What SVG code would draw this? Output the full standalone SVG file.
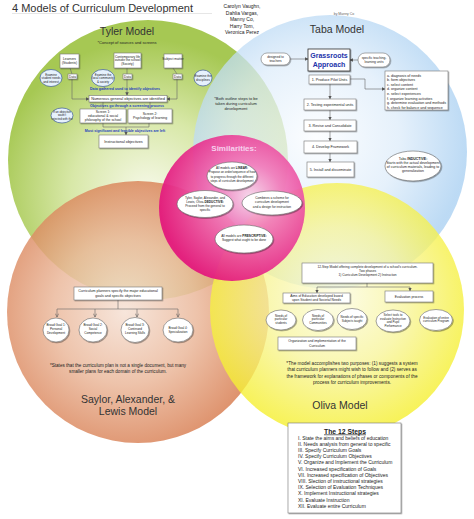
<svg xmlns="http://www.w3.org/2000/svg" width="474" height="519" viewBox="0 0 474 519">
<defs>
<radialGradient id="gG" cx="0.5" cy="0.62" r="0.55"><stop offset="0" stop-color="#F7F9EA"/><stop offset="0.5" stop-color="#D8E8A8"/><stop offset="1" stop-color="#A6C853"/></radialGradient>
<radialGradient id="gB" cx="0.45" cy="0.45" r="0.55"><stop offset="0" stop-color="#FBFDFF"/><stop offset="0.55" stop-color="#DDECFA"/><stop offset="1" stop-color="#A6CEF1"/></radialGradient>
<radialGradient id="gO" cx="0.45" cy="0.5" r="0.55"><stop offset="0" stop-color="#F5E0D3"/><stop offset="0.5" stop-color="#EAB698"/><stop offset="1" stop-color="#D6784A"/></radialGradient>
<radialGradient id="gY" cx="0.5" cy="0.45" r="0.55"><stop offset="0" stop-color="#FCFCE2"/><stop offset="0.5" stop-color="#F8F59C"/><stop offset="1" stop-color="#F5EF2C"/></radialGradient>
<radialGradient id="gP" cx="0.62" cy="0.42" r="0.62"><stop offset="0" stop-color="#F8D4EB"/><stop offset="0.35" stop-color="#F27CBD"/><stop offset="1" stop-color="#E3167C"/></radialGradient>
<filter id="sh" x="-20%" y="-20%" width="150%" height="160%"><feDropShadow dx="0.8" dy="0.9" stdDeviation="0.5" flood-color="#000" flood-opacity="0.4"/></filter>
<marker id="ar" viewBox="0 0 6 6" refX="5.5" refY="3" markerWidth="3.5" markerHeight="3.5" orient="auto" markerUnits="userSpaceOnUse"><path d="M0,0 L6,3 L0,6 z" fill="#555"/></marker>
<marker id="oa" viewBox="0 0 6 6" refX="5.5" refY="3" markerWidth="4" markerHeight="4" orient="auto" markerUnits="userSpaceOnUse"><path d="M0.5,0.5 L5.5,3 L0.5,5.5" fill="none" stroke="#555" stroke-width="0.8"/></marker>
<style>
.t{font-family:"Liberation Sans",Arial,sans-serif;fill:#222;text-anchor:middle}
.l{text-anchor:start}
.ttl{font-size:10.5px;fill:#333}
.box{fill:#fff;stroke:#777;stroke-width:0.6;filter:url(#sh)}
.ov{fill:#fff;stroke:#666;stroke-width:0.6;filter:url(#sh)}
.bov{fill:#E6F1FC;stroke:#3C5A9A;stroke-width:0.7}
.ln{fill:none;stroke:#666;stroke-width:0.6}
.bl{fill:#1F3FBF;font-weight:bold}
.b{font-weight:bold}
</style>
</defs>
<rect width="474" height="519" fill="#fff"/>

<g id="circles">
<circle cx="148" cy="160" r="140" fill="url(#gG)"/>
<circle cx="330" cy="152" r="137" fill="url(#gB)" fill-opacity="0.75"/>
<circle cx="138" cy="312" r="131" fill="url(#gO)" fill-opacity="0.82"/>
<circle cx="337" cy="310" r="127" fill="url(#gY)" fill-opacity="0.8"/>
<circle cx="232" cy="208" r="73" fill="url(#gP)" fill-opacity="0.93"/>
</g>

<g id="header">
<text class="t l" x="12" y="12" style="font-size:11px;fill:#333">4 Models of Curriculum Development</text>
<line x1="12" y1="13.5" x2="212" y2="13.5" stroke="#ccc" stroke-width="0.5"/>
<g class="t" style="font-size:5px">
<text x="242" y="8">Carolyn Vaughn,</text>
<text x="242" y="14.5">Dahlia Vargas,</text>
<text x="242" y="21">Manny Co,</text>
<text x="242" y="27.5">Harry Tom,</text>
<text x="242" y="34">Veronica Perez</text>
</g>
<text class="t" x="344" y="15" style="font-size:3.5px;fill:#666">by Manny Co</text>
</g>

<g id="connectors">
<line class="ln" x1="70" y1="68" x2="72" y2="74"/>
<line class="ln" x1="127" y1="68" x2="127" y2="74"/>
<line class="ln" x1="173" y1="68" x2="177" y2="74"/>
<polyline class="ln" points="72,79 72,99 89,99" marker-end="url(#ar)"/>
<line class="ln" x1="127" y1="79" x2="127" y2="95.5" marker-end="url(#ar)"/>
<polyline class="ln" points="177,79 177,99 167,99" marker-end="url(#ar)"/>
<line class="ln" x1="103" y1="102" x2="103" y2="109"/>
<line class="ln" x1="150" y1="102" x2="150" y2="109"/>
<polyline class="ln" points="103,123 103,127 149,127 149,123"/>
<line class="ln" x1="126" y1="127" x2="126" y2="135" marker-end="url(#ar)"/>
<line class="ln" x1="290" y1="59" x2="308" y2="59" marker-end="url(#ar)"/>
<line class="ln" x1="358" y1="60" x2="350" y2="60" marker-end="url(#ar)"/>
<line class="ln" x1="330" y1="84" x2="330" y2="99" marker-end="url(#ar)"/>
<line class="ln" x1="330" y1="110" x2="330" y2="120" marker-end="url(#ar)"/>
<line class="ln" x1="330" y1="131" x2="330" y2="141" marker-end="url(#ar)"/>
<line class="ln" x1="330" y1="153" x2="330" y2="162" marker-end="url(#ar)"/>
<polyline class="ln" points="350,79 365,79 365,89 385,89" marker-end="url(#ar)"/>
<line class="ln" x1="118" y1="300" x2="118" y2="309"/>
<line class="ln" x1="57" y1="309" x2="178" y2="309"/>
<line class="ln" x1="57" y1="309" x2="57" y2="317" marker-end="url(#oa)"/>
<line class="ln" x1="95" y1="309" x2="95" y2="317" marker-end="url(#oa)"/>
<line class="ln" x1="137" y1="309" x2="137" y2="317" marker-end="url(#oa)"/>
<line class="ln" x1="178" y1="309" x2="178" y2="317" marker-end="url(#oa)"/>
<line class="ln" x1="367" y1="283" x2="367" y2="287"/>
<line class="ln" x1="317" y1="287" x2="410" y2="287"/>
<line class="ln" x1="317" y1="287" x2="317" y2="293" marker-end="url(#ar)"/>
<line class="ln" x1="410" y1="287" x2="410" y2="291" marker-end="url(#ar)"/>
</g>

<g id="tyler">
<text class="t ttl" x="127" y="35">Tyler Model</text>
<text class="t" x="127" y="43.5" style="font-size:4px">*Concept of sources and screens</text>
<g id="tyler-learners"><rect class="box" x="60" y="54" width="19" height="14"/><text class="t" x="69.5" y="60" style="font-size:3.3px">Learners</text><text class="t" x="69.5" y="64" style="font-size:3.3px">(Students)</text></g>
<g id="tyler-society"><rect class="box" x="114" y="53" width="27" height="15"/><text class="t" x="127.5" y="57.5" style="font-size:3.2px">Contemporary life</text><text class="t" x="127.5" y="61.3" style="font-size:3.2px">outside the school</text><text class="t" x="127.5" y="65.1" style="font-size:3.2px">(Society)</text></g>
<g id="tyler-subject"><rect class="box" x="164" y="54" width="18" height="14"/><text class="t" x="173" y="60" style="font-size:3.3px">Subject matter</text></g>
<g id="tyler-data"><rect class="box" x="68" y="74" width="9" height="5"/><text class="t" x="72.5" y="77.8" style="font-size:3.3px">Data</text>
<rect class="box" x="123" y="74" width="9" height="5"/><text class="t" x="127.5" y="77.8" style="font-size:3.3px">Data</text>
<rect class="box" x="173" y="74" width="9" height="5"/><text class="t" x="177.5" y="77.8" style="font-size:3.3px">Data</text></g>
<g id="tyler-ov1"><ellipse class="bov" cx="51" cy="78" rx="11" ry="8.5"/><text class="t" x="51" y="75.5" style="font-size:3px">Examine</text><text class="t" x="51" y="79" style="font-size:3px">student needs</text><text class="t" x="51" y="82.5" style="font-size:3px">and interest</text></g>
<g id="tyler-ov2"><ellipse class="bov" cx="103" cy="78" rx="11.5" ry="8.5"/><text class="t" x="103" y="75.5" style="font-size:3px">Examine the</text><text class="t" x="103" y="79" style="font-size:3px">local community</text><text class="t" x="103" y="82.5" style="font-size:3px">&amp; society</text></g>
<g id="tyler-ov3"><ellipse class="bov" cx="203" cy="78" rx="9" ry="8"/><text class="t" x="203" y="77" style="font-size:3px">Examine the</text><text class="t" x="203" y="80.5" style="font-size:3px">disciplines</text></g>
<text class="t bl" x="125" y="90" style="font-size:3.6px">Data gathered used to identify objectives</text>
<g id="tyler-numerous"><rect class="box" x="89" y="95.5" width="78" height="6.5"/><text class="t" x="128" y="100.2" style="font-size:3.9px">Numerous general objectives are identified</text></g>
<text class="t bl" x="127" y="106.7" style="font-size:3.6px">Objectives go through a screening process</text>
<g id="tyler-screen1"><rect class="box" x="80" y="109" width="46" height="14"/><text class="t" x="103" y="113" style="font-size:3.4px">Screen 1:</text><text class="t" x="103" y="117" style="font-size:3.4px">educational &amp; social</text><text class="t" x="103" y="121" style="font-size:3.4px">philosophy of the school</text></g>
<g id="tyler-screen2"><rect class="box" x="128" y="109" width="44" height="14"/><text class="t" x="150" y="114.5" style="font-size:3.4px">Screen 2:</text><text class="t" x="150" y="118.5" style="font-size:3.4px">Psychology of learning</text></g>
<g id="tyler-ov4"><ellipse class="bov" cx="62" cy="115.5" rx="11" ry="7.5"/><text class="t" x="62" y="113" style="font-size:2.9px">If an objective</text><text class="t" x="62" y="116.3" style="font-size:2.9px">wasn't</text><text class="t" x="62" y="119.6" style="font-size:2.9px">rejected with the</text></g>
<text class="t bl" x="125" y="131.5" style="font-size:3.6px">Most significant and feasible objectives are left</text>
<g id="tyler-instr"><rect class="box" x="99" y="135" width="49" height="13"/><text class="t" x="123.5" y="142.8" style="font-size:3.8px">Instructional objectives</text></g>
</g>

<g id="both-note" class="t" style="font-size:4px">
<text x="236" y="100">*Both outline steps to be</text>
<text x="236" y="104.8">taken during curriculum</text>
<text x="236" y="109.6">development</text>
</g>

<g id="taba">
<text class="t ttl" x="337" y="33">Taba Model</text>
<g id="taba-grass"><rect x="308" y="49" width="42" height="22" fill="#fff" stroke="#333" stroke-width="0.8" filter="url(#sh)"/><text class="t b" x="329" y="58" style="font-size:7px;fill:#2233AA">Grassroots</text><text class="t b" x="329" y="67" style="font-size:7px;fill:#2233AA">Approach</text></g>
<g id="taba-designed"><rect class="box" x="261" y="53" width="29" height="12" rx="6"/><text class="t" x="275.5" y="58.4" style="font-size:3.2px">designed to</text><text class="t" x="275.5" y="62" style="font-size:3.2px">teachers</text></g>
<g id="taba-specific"><rect class="box" x="358" y="53" width="32" height="14" rx="7"/><text class="t" x="374" y="59" style="font-size:3.2px">specific teaching-</text><text class="t" x="374" y="62.8" style="font-size:3.2px">learning units</text></g>
<g id="taba-s1"><rect class="box" x="309" y="75" width="41" height="9"/><text class="t" x="329.5" y="80.8" style="font-size:3.7px">1. Produce Pilot Units</text></g>
<g id="taba-s2"><rect class="box" x="304" y="99" width="52" height="11"/><text class="t" x="330" y="105.8" style="font-size:3.7px">2. Testing experimental units</text></g>
<g id="taba-s3"><rect class="box" x="304" y="120" width="52" height="11"/><text class="t" x="330" y="126.8" style="font-size:3.7px">3. Revise and Consolidate</text></g>
<g id="taba-s4"><rect class="box" x="304" y="141" width="53" height="12"/><text class="t" x="330.5" y="148.3" style="font-size:3.7px">4. Develop Framework</text></g>
<g id="taba-s5"><rect class="box" x="307" y="162" width="47" height="15"/><text class="t" x="330.5" y="170.8" style="font-size:3.7px">5. Install and disseminate</text></g>
<g id="taba-list"><rect class="box" x="385" y="71" width="63" height="39"/>
<g class="t l" style="font-size:3.6px">
<text x="387" y="76.5">a.  diagnosis of needs</text>
<text x="387" y="81.1">b.  form objectives</text>
<text x="387" y="85.7">c.  select content</text>
<text x="387" y="90.3">d.  organize content</text>
<text x="387" y="94.9">e.  select experiences</text>
<text x="387" y="99.5">f.   organize learning activities</text>
<text x="387" y="104.1">g.  determine evaluation and methods</text>
<text x="387" y="108.7">h.  check for balance and sequence</text>
</g></g>
<g id="taba-inductive"><ellipse class="ov" cx="413" cy="166" rx="28" ry="15"/>
<g class="t" style="font-size:3.5px">
<text x="413" y="159.5">Taba <tspan class="b">INDUCTIVE:</tspan></text>
<text x="413" y="163.8">Starts with the actual development</text>
<text x="413" y="168.1">of curriculum materials, leading to</text>
<text x="413" y="172.4">generalization</text>
</g></g>
</g>

<g id="similarities">
<text class="t b" x="234" y="151" style="font-size:8px;fill:#F8D0EE">Similarities:</text>
<g id="sim-linear"><ellipse class="ov" cx="232" cy="176" rx="25" ry="14"/>
<g class="t" style="font-size:3px"><text x="232" y="169">All models are <tspan class="b">LINEAR:</tspan></text><text x="232" y="173.3">Propose an order/sequence of how</text><text x="232" y="177.6">to progress through the different</text><text x="232" y="181.9">steps of curriculum development</text></g></g>
<g id="sim-deductive"><ellipse class="ov" cx="205" cy="204" rx="28" ry="13.5"/>
<g class="t" style="font-size:3.2px"><text x="205" y="198.5">Tyler, Saylor, Alexander, and</text><text x="205" y="202.7">Lewis, Oliva-<tspan class="b">DEDUCTIVE:</tspan></text><text x="205" y="206.9">Proceed from the general to</text><text x="205" y="211.1">specific</text></g></g>
<g id="sim-scheme"><ellipse class="ov" cx="272" cy="203" rx="30" ry="12"/>
<g class="t" style="font-size:3.2px"><text x="272" y="199.2">Combines a scheme for</text><text x="272" y="203.4">curriculum development</text><text x="272" y="207.6">and a design for instruction</text></g></g>
<g id="sim-prescriptive"><ellipse class="ov" cx="244" cy="239" rx="29" ry="14"/>
<g class="t" style="font-size:3.2px"><text x="244" y="236.5">All models are <tspan class="b">PRESCRIPTIVE:</tspan></text><text x="244" y="240.8">Suggest what ought to be done</text></g></g>
</g>

<g id="saylor">
<g id="saylor-box"><rect class="box" x="74" y="287" width="88" height="13"/><text class="t" x="118" y="292.3" style="font-size:3.6px">Curriculum planners specify the major educational</text><text class="t" x="118" y="296.6" style="font-size:3.6px">goals and specific objectives</text></g>
<g id="saylor-g1"><ellipse class="ov" cx="56" cy="330" rx="13" ry="12"/><g class="t" style="font-size:3.1px"><text x="56" y="326.3">Broad Goal 1:</text><text x="56" y="330.3">Personal</text><text x="56" y="334.3">Development</text></g></g>
<g id="saylor-g2"><ellipse class="ov" cx="93" cy="330" rx="14" ry="12"/><g class="t" style="font-size:3.1px"><text x="93" y="326.3">Broad Goal 2:</text><text x="93" y="330.3">Social</text><text x="93" y="334.3">Competence</text></g></g>
<g id="saylor-g3"><ellipse class="ov" cx="135" cy="330" rx="14" ry="12.5"/><g class="t" style="font-size:3.1px"><text x="135" y="326.3">Broad Goal 3:</text><text x="135" y="330.3">Continued</text><text x="135" y="334.3">Learning Skills</text></g></g>
<g id="saylor-g4"><ellipse class="ov" cx="178" cy="330" rx="15" ry="12"/><g class="t" style="font-size:3.1px"><text x="178" y="328.5">Broad Goal 4:</text><text x="178" y="332.5">Specialization</text></g></g>
<text class="t" x="118" y="367" style="font-size:4.6px">*States that the curriculum plan is not a single document, but many</text>
<text class="t" x="118" y="373" style="font-size:4.6px">smaller plans for each domain of the curriculum.</text>
<text class="t ttl" x="128" y="403">Saylor, Alexander, &amp;</text>
<text class="t ttl" x="128" y="415">Lewis Model</text>
</g>

<g id="oliva">
<g id="oliva-main"><rect class="box" x="302" y="263" width="131" height="20"/><g class="t" style="font-size:3.2px"><text x="367.5" y="267.8">12-Step Model offering complete development of a school's curriculum.</text><text x="367.5" y="272">Two phases</text><text x="367.5" y="276.2">1) Curriculum Development  2) Instruction</text></g></g>
<g id="oliva-aims"><rect class="box" x="283" y="293" width="67" height="10"/><text class="t" x="316.5" y="297.3" style="font-size:3.3px">Aims of Education developed based</text><text class="t" x="316.5" y="301.2" style="font-size:3.3px">upon Student and Societal Needs</text></g>
<g id="oliva-eval"><rect class="box" x="385" y="291" width="48" height="11"/><text class="t" x="409" y="297.8" style="font-size:3.4px">Evaluation process</text></g>
<g id="oliva-n1"><ellipse class="ov" cx="281" cy="320" rx="15" ry="10"/><g class="t" style="font-size:3px"><text x="281" y="316.6">Needs of</text><text x="281" y="320.4">particular</text><text x="281" y="324.2">students</text></g></g>
<g id="oliva-n2"><ellipse class="ov" cx="318" cy="320" rx="15.5" ry="10.5"/><g class="t" style="font-size:3px"><text x="318" y="316.6">Needs of</text><text x="318" y="320.4">particular</text><text x="318" y="324.2">Communities</text></g></g>
<g id="oliva-n3"><ellipse class="ov" cx="352" cy="319" rx="15" ry="10.5"/><g class="t" style="font-size:3px"><text x="352" y="318">Needs of specific</text><text x="352" y="321.8">Subjects taught</text></g></g>
<g id="oliva-n4"><ellipse class="ov" cx="393" cy="321" rx="17" ry="11"/><g class="t" style="font-size:3px"><text x="393" y="315.8">Select tools to</text><text x="393" y="319.6">evaluate Instruction</text><text x="393" y="323.4">and Pupil</text><text x="393" y="327.2">Performance</text></g></g>
<g id="oliva-n5"><ellipse class="ov" cx="436" cy="320" rx="16.5" ry="10.5"/><g class="t" style="font-size:3px"><text x="436" y="318.6">Evaluation of entire</text><text x="436" y="322.4">curriculum Program</text></g></g>
<g id="oliva-org"><rect class="box" x="278" y="337" width="78" height="13"/><text class="t" x="317" y="342.3" style="font-size:3.3px">Organization and implementation of the</text><text class="t" x="317" y="346.5" style="font-size:3.3px">Curriculum</text></g>
<g class="t" style="font-size:4.7px">
<text x="352" y="365">*The model accomplishes two purposes: (1) suggests a system</text>
<text x="352" y="371.4">that curriculum planners might wish to follow and (2) serves as</text>
<text x="352" y="377.8">the framework for explanations of phases or components of the</text>
<text x="352" y="384.2">process for curriculum improvements.</text>
</g>
<text class="t ttl" x="340" y="409">Oliva Model</text>
</g>

<g id="steps">
<rect class="box" x="288" y="423" width="113" height="90"/>
<text class="t b" x="345" y="433.5" style="font-size:6.8px;text-decoration:underline">The 12 Steps</text>
<g class="t l" style="font-size:5px">
<text x="298" y="439.5">I. State the aims and beliefs of education</text>
<text x="298" y="445.7">II. Needs analysis from general to specific</text>
<text x="298" y="451.9">III. Specify Curriculum Goals</text>
<text x="298" y="458.1">IV. Specify Curriculum Objectives</text>
<text x="298" y="464.3">V. Organize and Implement the Curriculum</text>
<text x="298" y="470.5">VI. Increased specification of Goals</text>
<text x="298" y="476.7">VII. Increased specification of Objectives</text>
<text x="298" y="482.9">VIII. Slection of instructional strategies</text>
<text x="298" y="489.1">IX.  Selection of Evaluation Techniques</text>
<text x="298" y="495.3">X. Implement Instructional strategies</text>
<text x="298" y="501.5">XI.  Evaluate Instruction</text>
<text x="298" y="507.7">XII.  Evaluate entire Curriculum</text>
</g>
</g>
</svg>
